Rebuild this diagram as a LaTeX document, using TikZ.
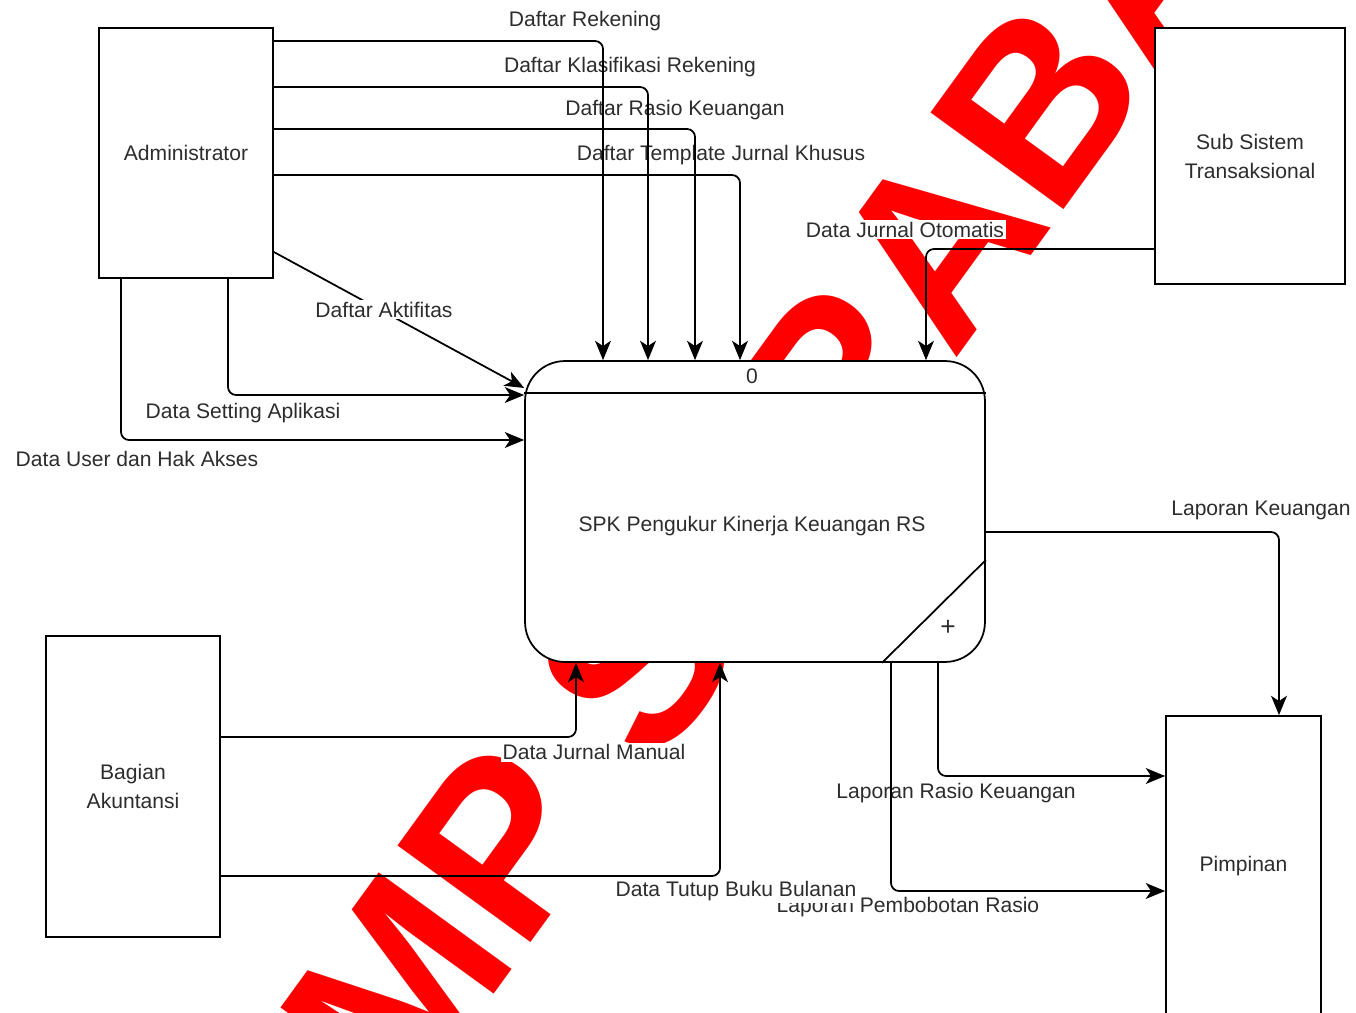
\documentclass[tikz,border=0pt]{standalone}
\usepackage{fontspec}
\setmainfont{Liberation Sans}
\usetikzlibrary{arrows.meta}
\usetikzlibrary{calc}
\definecolor{wmred}{RGB}{255,0,0}
\definecolor{txtgray}{RGB}{45,45,45}

\begin{document}
\begin{tikzpicture}[x=0.02cm, y=-0.02cm,
  ext/.style={draw, line width=1pt, fill=white, align=center, text=txtgray,
    font=\fontsize{12}{16.5}\selectfont},
  proc/.style={draw, line width=1pt, fill=white, rounded corners=0.8cm,
    minimum width=9.2cm, minimum height=6.02cm},
  txt/.style={text=txtgray, font=\fontsize{12}{15}\selectfont},
  lbl/.style={txt, fill=white, inner sep=1pt},
  flow/.style={line width=1pt, rounded corners=0.16cm,
    -{Stealth[length=11pt, width=9pt, inset=3pt]}},
  wmark/.style={text=wmred, font=\fontsize{136}{136}\selectfont\bfseries,
    rotate=54, anchor=base west, inner sep=0pt}]

\useasboundingbox (0,0) rectangle (1356,1013);
\clip (0,0) rectangle (1356,1013);

%---------------------------------------
% Watermark (behind everything)
%---------------------------------------
\coordinate (wmstart) at (404,1118);
\foreach \ch/\d [count=\i] in {M/0, P/0.833, S/1.778, R/3.167, A/3.889, B/4.611, A/5.333}{
  \node[wmark] (wm\i) at ($(wmstart)+{\d*240}*(0.588,-0.809)$) {\ch};
}

%---------------------------------------
% External entities and process
%---------------------------------------
\node[ext, minimum width=3.48cm, minimum height=5cm] (admin) at (186,153) {Administrator};
\node[ext, minimum width=3.8cm, minimum height=5.12cm] (subsis) at (1250,156) {Sub Sistem\\Transaksional};
\node[ext, minimum width=3.48cm, minimum height=6.02cm] (bagian) at (133,786.5) {Bagian\\Akuntansi};
\node[ext, minimum width=3.1cm, minimum height=6cm] (pimpinan) at (1243.5,866) {Pimpinan};

\node[proc] (spk) at (755,511.5) {};
\draw[line width=1pt] (spk.west |- 0,393) -- (spk.east |- 0,393);
\draw[line width=1pt] (spk.south -| 882,0) -- (spk.east |- 0,560);
\node[txt] (pid) at (752,376) {0};
\node[txt] (spkname) at (752,526) {SPK Pengukur Kinerja Keuangan RS};
\node[txt, font=\fontsize{15}{15}\selectfont] (plus) at (948,628) {+};

%---------------------------------------
% Flow labels
%---------------------------------------
\node[lbl] (lbRek) at (585,21) {Daftar Rekening};
\node[lbl] (lbKlas) at (630,67) {Daftar Klasifikasi Rekening};
\node[lbl] (lbRasio) at (675,110) {Daftar Rasio Keuangan};
\node[lbl] (lbTmpl) at (721,155) {Daftar Template Jurnal Khusus};
\node[lbl] (lbSet) at (243,413) {Data Setting Aplikasi};
\node[lbl] (lbUser) at (137,459) {Data User dan Hak Akses};
\node[lbl] (lbOto) at (905,230) {Data Jurnal Otomatis};
\node[lbl] (lbLapK) at (1261,510) {Laporan Keuangan};
\node[lbl] (lbLapR) at (956,793) {Laporan Rasio Keuangan};
\node[lbl] (lbBobot) at (908,907) {Laporan Pembobotan Rasio};
\node[lbl] (lbManual) at (594,752) {Data Jurnal Manual};
\node[lbl] (lbTutup) at (736,891) {Data Tutup Buku Bulanan};

%---------------------------------------
% Flows into the process
%---------------------------------------
\draw[flow] (admin.east |- 0,175) -| (spk.north -| 740,0);
\draw[flow] (admin.east |- 0,129) -| (spk.north -| 695,0);
\draw[flow] (admin.east |- 0,87) -| (spk.north -| 648,0);
\draw[flow] (admin.east |- 0,41) -| (spk.north -| 603,0);
\draw[flow] (admin.east |- 0,252) -- (spk.west |- 0,388);
\draw[flow] (admin.south -| 228,0) |- (spk.west |- 0,395);
\draw[flow] (admin.south -| 121,0) |- (spk.west |- 0,440);
\draw[flow] (subsis.west |- 0,249) -| (spk.north -| 926,0);
\draw[flow] (bagian.east |- 0,737) -| (spk.south -| 576,0);
\draw[flow] (bagian.east |- 0,876) -| (spk.south -| 720,0);

%---------------------------------------
% Flows out to Pimpinan
%---------------------------------------
\draw[flow] (spk.east |- 0,532) -| (pimpinan.north -| 1279,0);
\draw[flow] (spk.south -| 938,0) |- (pimpinan.west |- 0,776);
\draw[flow] (spk.south -| 891,0) |- (pimpinan.west |- 0,891);

\node[lbl] (lbAkt) at (384,310) {Daftar Aktifitas};

\end{tikzpicture}
\end{document}
